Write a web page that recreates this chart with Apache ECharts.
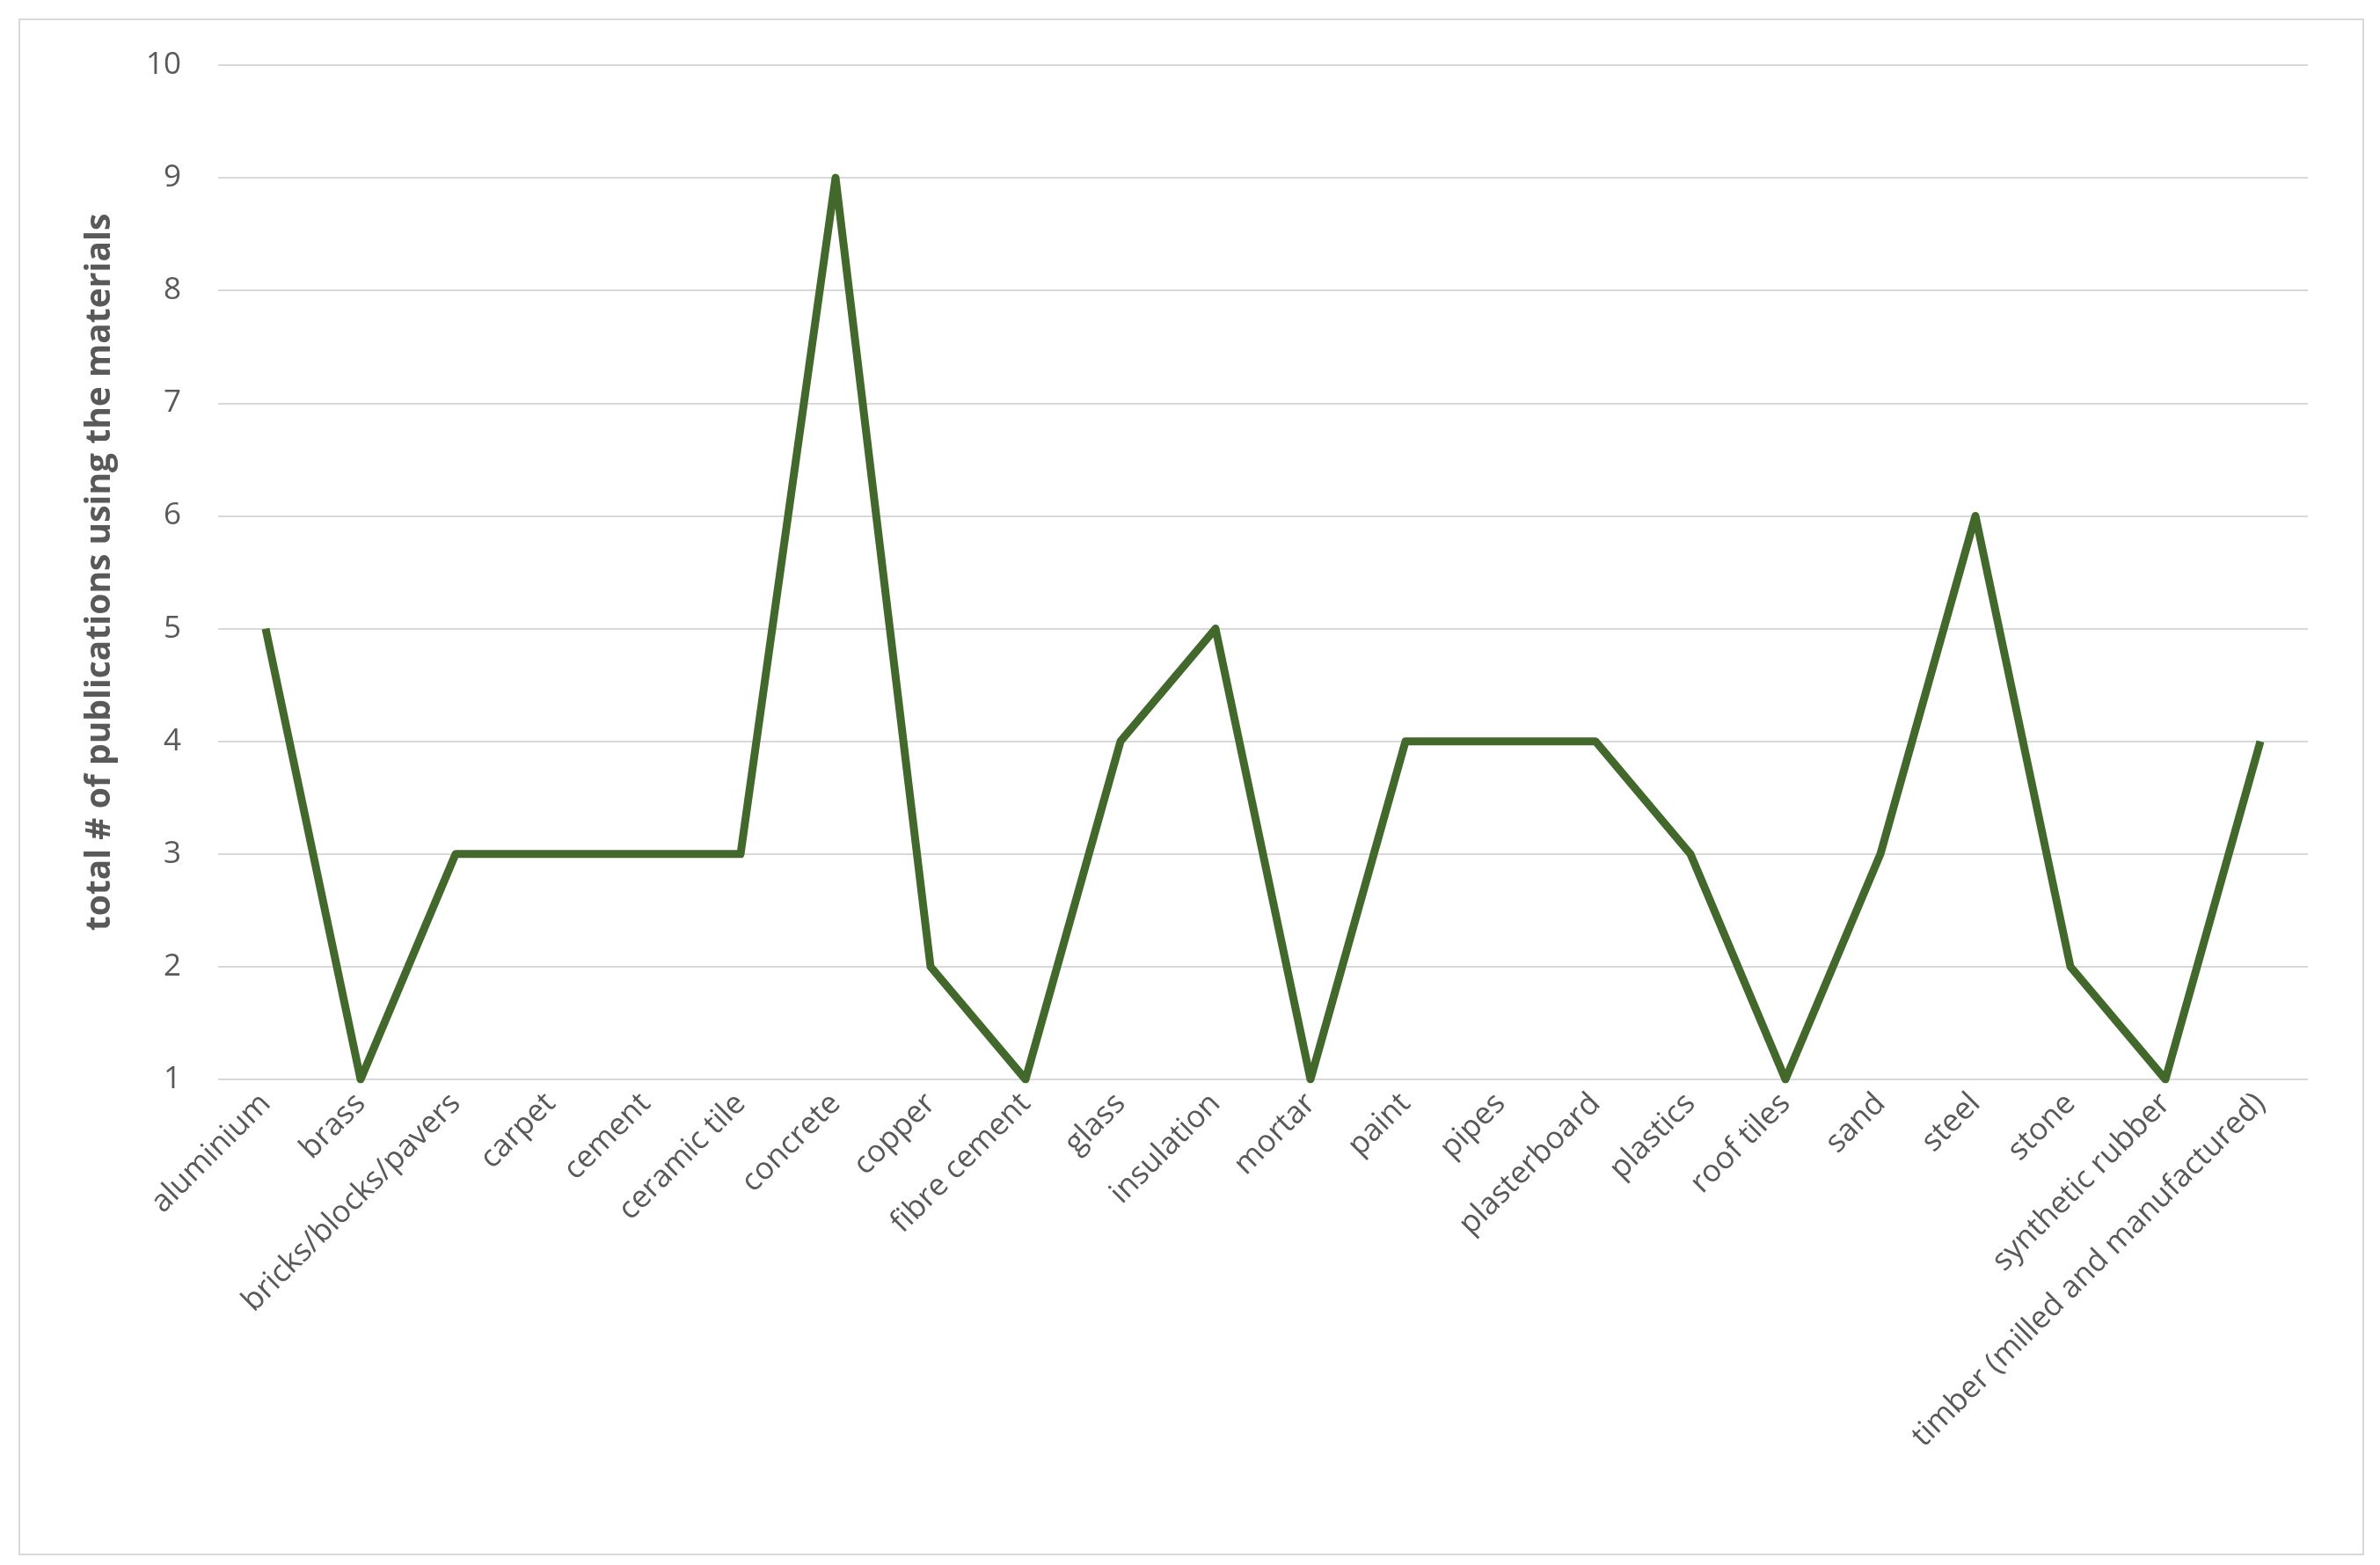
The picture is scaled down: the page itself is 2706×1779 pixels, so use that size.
<!DOCTYPE html>
<html><head><meta charset="utf-8">
<script src="https://cdn.jsdelivr.net/npm/echarts@6/dist/echarts.min.js"></script>
<style>html,body{margin:0;padding:0;background:#fff}#c{width:2706px;height:1779px}
#f{position:absolute;left:21px;top:21px;width:2663px;height:1743px;border:2px solid #d9d9d9;pointer-events:none}</style>
</head><body><div id="c"></div><div id="f"></div>
<script>
const categories = ["aluminium","brass","bricks/blocks/pavers","carpet","cement","ceramic tile","concrete","copper","fibre cement","glass","insulation","mortar","paint","pipes","plasterboard","plastics","roof tiles","sand","steel","stone","synthetic rubber","timber (milled and manufactured)"];
const values = [5,1,3,3,3,3,9,2,1,4,5,1,4,4,4,3,1,3,6,2,1,4];
const yName = "total # of publications using the materials";
const chart = echarts.init(document.getElementById('c'));
chart.setOption({
  animation:false,
  grid:{left:248,right:82,top:74,bottom:552},
  xAxis:{type:'category',data:categories,boundaryGap:true,
    axisLine:{show:false},axisTick:{show:false},
    axisLabel:{rotate:45,fontSize:35,color:'#595959',fontFamily:'Open Sans',margin:22,interval:0}},
  yAxis:{type:'value',min:1,max:10,interval:1,name:yName,nameLocation:'middle',nameGap:115,
    nameTextStyle:{fontSize:39,fontWeight:'bold',color:'#595959',fontFamily:'Open Sans'},
    axisLine:{show:false},axisTick:{show:false},
    axisLabel:{fontSize:35,color:'#595959',fontFamily:'Open Sans',margin:42},
    splitLine:{lineStyle:{color:'#d9d9d9',width:2}}},
  series:[{type:'line',data:values,symbol:'none',lineStyle:{color:'#43682b',width:9,join:'round'}}]
});
</script></body></html>
